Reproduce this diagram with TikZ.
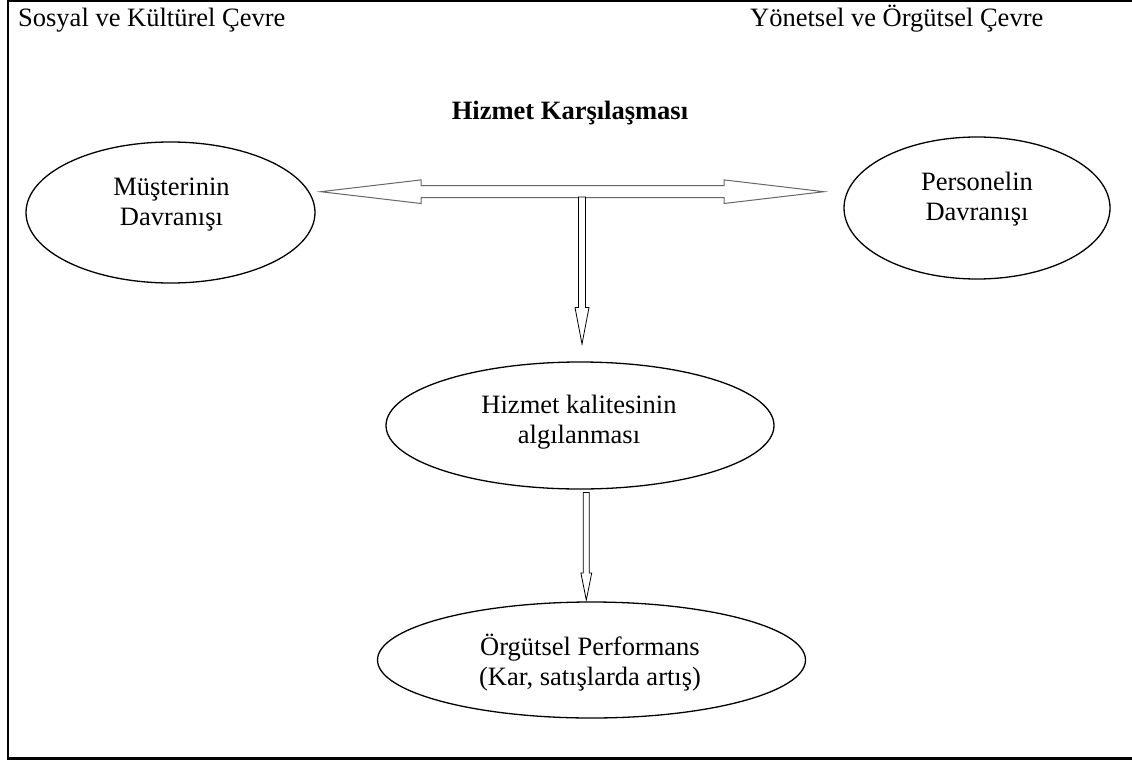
\documentclass[tikz,border=0pt]{standalone}
\usepackage{fontspec}
\setmainfont{Liberation Serif}
\usetikzlibrary{shapes.geometric,calc}
\begin{document}
\begin{tikzpicture}[x=1pt,y=-1pt,
  oval/.style={draw, ellipse, line width=1.3pt, inner sep=0pt, fill=white},
  txt/.style={inner sep=0pt, anchor=base, font=\fontsize{26.5}{30.5}\selectfont},
  corner/.style={inner sep=0pt, anchor=base west, font=\fontsize{26.5}{30.5}\selectfont},
  frame/.style={line width=2.3pt},
  dblarrow/.style={draw=black!60, line width=1pt, fill=white, line join=miter},
  downarrow/.style={draw=black, line width=0.8pt, fill=white, line join=miter}]
\useasboundingbox (0,0) rectangle (1132,760);
\clip (0,0) rectangle (1132,760);
\fill[white] (0,0) rectangle (1132,760);
% frame
\draw[frame] (1145,1.3) -- (8,1.3) -- (8,758.5) -- (1145,758.5);
% corner labels
\node[corner] (sos) at (18,27) {Sosyal ve Kültürel Çevre};
\node[corner] (yon) at (750,27) {Yönetsel ve Örgütsel Çevre};
\node[txt, font=\fontsize{26.5}{30.5}\selectfont\bfseries] (title) at (570,119) {Hizmet Karşılaşması};
% ellipses
\node[oval, minimum width=289pt, minimum height=141pt] (mus) at (170.5,212.5) {};
\node[oval, minimum width=266pt, minimum height=142pt] (per) at (977,208) {};
\node[oval, minimum width=388pt, minimum height=127pt] (alg) at (580,425.5) {};
\node[oval, minimum width=428pt, minimum height=116pt] (perf) at (591.5,660) {};
% ellipse texts
\node[txt] (mus1) at (171.5,195) {Müşterinin};
\node[txt] (mus2) at (171.5,225) {Davranışı};
\node[txt] (per1) at (977,190) {Personelin};
\node[txt] (per2) at (977,220) {Davranışı};
\node[txt] (alg1) at (579,413) {Hizmet kalitesinin};
\node[txt] (alg2) at (579,443) {algılanması};
\node[txt] (perf1) at (590,655) {Örgütsel Performans};
\node[txt] (perf2) at (590,685) {(Kar, satışlarda artış)};
% connector end points
\coordinate (hl) at (320.7,191.7);
\coordinate (hr) at (824,191.7);
\coordinate (v1top) at (582,197);
\coordinate (v1tip) at (582,344);
\coordinate (v2top) at (586.3,492.5);
\coordinate (v2tip) at (586.3,600);
% double block arrow between the two behaviours
\draw[dblarrow] (hl) -- (421,179.9) -- (421,185.7) -- (724,185.7) -- (724,179.9)
  -- (hr) -- (724,203.5) -- (724,197.7) -- (421,197.7) -- (421,203.5) -- cycle;
% block arrow down to perception
\draw[downarrow] ($(v1top)+(-3.5,0)$) -- ($(v1top)+(3.5,0)$) -- ($(v1tip)+(3.5,-36.5)$)
  -- ($(v1tip)+(7,-36.5)$) -- (v1tip) -- ($(v1tip)+(-7,-36.5)$) -- ($(v1tip)+(-3.5,-36.5)$) -- cycle;
% block arrow down to performance
\draw[downarrow] ($(v2top)+(-3,0)$) -- ($(v2top)+(3,0)$) -- ($(v2tip)+(3,-27)$)
  -- ($(v2tip)+(5.4,-27)$) -- (v2tip) -- ($(v2tip)+(-5.4,-27)$) -- ($(v2tip)+(-3,-27)$) -- cycle;
\end{tikzpicture}
\end{document}
